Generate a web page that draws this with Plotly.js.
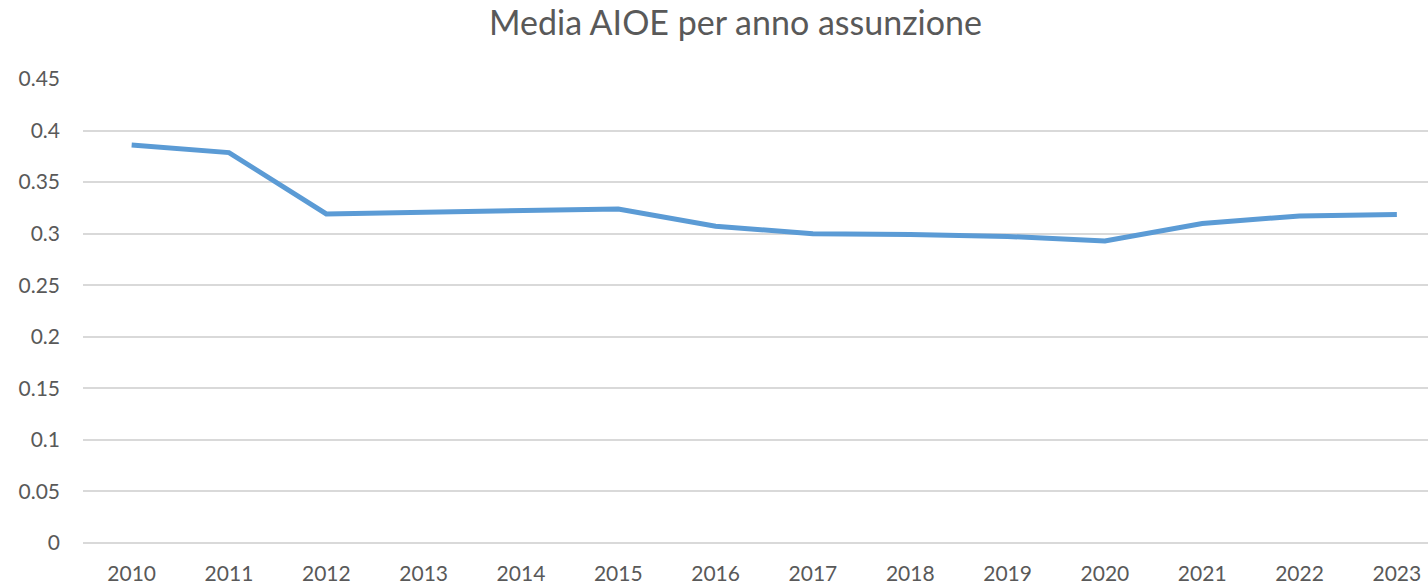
<!DOCTYPE html>
<html>
<head>
<meta charset="utf-8">
<script src="https://cdn.plot.ly/plotly-3.0.1.min.js"></script>
<style>html,body{margin:0;padding:0;background:#fff;overflow:hidden}#chart{width:1428px;height:588px}</style>
</head>
<body>
<div id="chart"></div>
<script>
const years = ["2010","2011","2012","2013","2014","2015","2016","2017","2018","2019","2020","2021","2022","2023"];
const mediaAIOE = [0.386, 0.3786, 0.3191, 0.3208, 0.322, 0.324, 0.3072, 0.2999, 0.2991, 0.2973, 0.293, 0.3098, 0.3172, 0.3185];
const yTicks = [0, 0.05, 0.1, 0.15, 0.2, 0.25, 0.3, 0.35, 0.4, 0.45];
const yTickText = ["0","0.05","0.1","0.15","0.2","0.25","0.3","0.35","0.4","0.45"];
const chartTitle = "Media AIOE per anno assunzione";

const trace = {
  x: years.map((_, i) => i),
  y: mediaAIOE,
  type: "scatter",
  mode: "lines",
  line: {color: "#5B9BD5", width: 5, shape: "linear"},
  hoverinfo: "y"
};

const layout = {
  width: 1428, height: 588,
  margin: {l: 83, r: 0, t: 79, b: 45},
  paper_bgcolor: "#fff", plot_bgcolor: "#fff",
  font: {family: "Lato, 'Open Sans', sans-serif", color: "#595959", size: 21},
  title: {text: chartTitle, x: 0.515, xanchor: "center", y: 0.96, yanchor: "middle",
          font: {size: 34, color: "#595959", family: "Lato, 'Open Sans', sans-serif"}},
  showlegend: false,
  xaxis: {
    range: [-0.5, 13.32],
    tickmode: "array", tickvals: years.map((_, i) => i), ticktext: years,
    showgrid: false, zeroline: false, showline: false, ticks: "",
    ticklabelstandoff: 16,
    tickfont: {size: 21, color: "#595959"}
  },
  yaxis: {
    range: [0, 0.45],
    tickmode: "array", tickvals: yTicks, ticktext: yTickText,
    showgrid: true, gridcolor: "#D9D9D9", gridwidth: 2,
    zeroline: true, zerolinecolor: "#D9D9D9", zerolinewidth: 2,
    showline: false, ticks: "", ticklen: 0,
    ticklabelstandoff: 22,
    tickfont: {size: 21, color: "#595959"}
  }
};

Plotly.newPlot("chart", [trace], layout, {displayModeBar: false, staticPlot: true});
</script>
</body>
</html>
